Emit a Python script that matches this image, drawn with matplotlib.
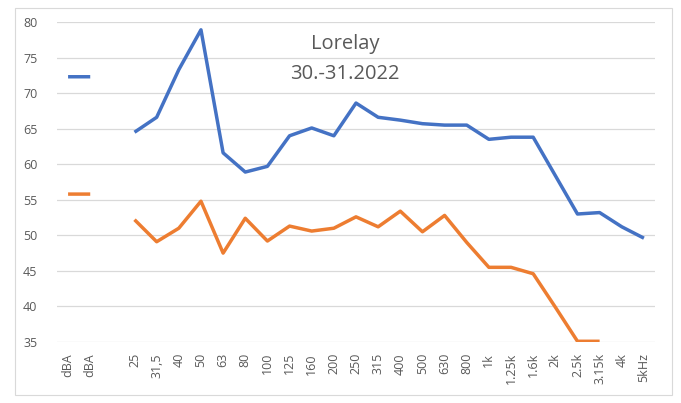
import numpy as np
import matplotlib.pyplot as plt
from matplotlib.patches import Rectangle

# categories (one empty slot between dBA and 25)
categories = ["dBA", "dBA", "", "25", "31,5", "40", "50", "63", "80", "100", "125",
              "160", "200", "250", "315", "400", "500", "630", "800", "1k", "1.25k",
              "1.6k", "2k", "2.5k", "3.15k", "4k", "5kHz"]
nan = np.nan
blue_vals = [72.3, 72.3, nan, 64.5, 66.6, 73.3, 78.9, 61.6, 58.9, 59.7, 64.0,
             65.1, 64.0, 68.6, 66.6, 66.2, 65.7, 65.5, 65.5, 63.5, 63.8,
             63.8, 58.4, 53.0, 53.2, 51.2, 49.6]
orange_vals = [55.8, 55.8, nan, 52.2, 49.1, 51.0, 54.8, 47.5, 52.4, 49.2, 51.3,
               50.6, 51.0, 52.6, 51.2, 53.4, 50.5, 52.8, 49.0, 45.5, 45.5,
               44.6, 39.9, 35.1, 35.1, nan, nan]
yticks = [35, 40, 45, 50, 55, 60, 65, 70, 75, 80]

plt.rcParams["font.family"] = ["Open Sans", "DejaVu Sans"]
grey = "#595959"

fig = plt.figure(figsize=(6.81, 4.03), dpi=100)
ax = fig.add_axes([57 / 681, 1 - 342 / 403, (655 - 57) / 681, 320 / 403])

x = np.arange(len(categories))
ax.plot(x, blue_vals, color="#4472C4", lw=2.5, solid_capstyle="butt", zorder=3)
ax.plot(x, orange_vals, color="#ED7D31", lw=2.5, solid_capstyle="butt", zorder=3)

ax.set_xlim(-0.5, len(categories) - 0.5)
ax.set_ylim(35, 80)
ax.set_yticks(yticks)
ax.set_xticks(x)
ax.set_xticklabels(categories, rotation=90)
ax.tick_params(axis="both", length=0, colors=grey, labelsize=9)
ax.tick_params(axis="y", pad=14)
ax.tick_params(axis="x", pad=8)
ax.grid(axis="y", color="#D9D9D9", lw=0.9)
ax.set_axisbelow(True)
for s in ax.spines.values():
    s.set_visible(False)

ax.text(0.482, 0.885, "Lorelay\n30.-31.2022", transform=ax.transAxes,
        ha="center", va="center", fontsize=14.5, color=grey, linespacing=1.7)

fig.patches.append(Rectangle((15 / 681, 8 / 403), 657 / 681, 387 / 403,
                             transform=fig.transFigure, fill=False,
                             edgecolor="#D9D9D9", lw=0.8))

fig.savefig("out.png", dpi=100)
